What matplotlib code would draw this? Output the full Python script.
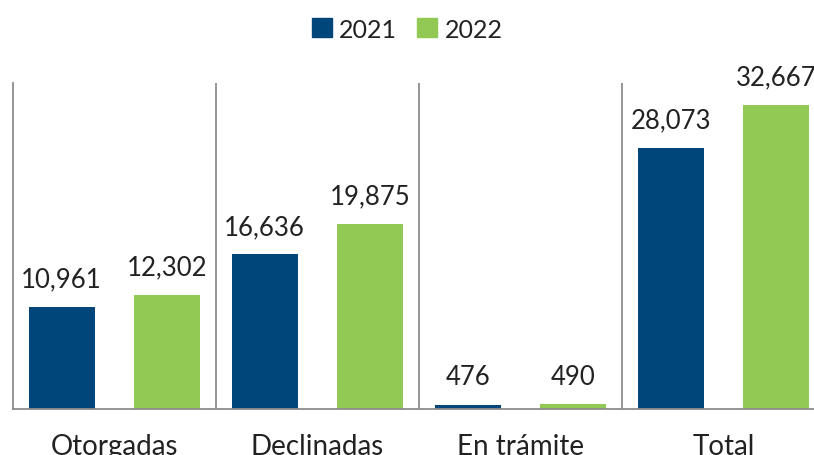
import numpy as np
import matplotlib.pyplot as plt
from matplotlib.patches import Patch

plt.rcParams['font.family'] = ['Lato', 'DejaVu Sans']

categories = ["Otorgadas", "Declinadas", "En trámite", "Total"]
years = ["2021", "2022"]
values_2021 = [10961, 16636, 476, 28073]
values_2022 = [12302, 19875, 490, 32667]

blue = "#00467A"
green = "#92C955"
line_col = "#8C8C8C"

fig = plt.figure(figsize=(8.14, 4.56), dpi=100)
ax = fig.add_axes([13 / 814, 46 / 456, 812 / 814, 325.7 / 456])

x = np.arange(len(categories))
w = 0.325
off = 0.26

b1 = ax.bar(x - off, values_2021, width=w, color=blue)
b2 = ax.bar(x + off, values_2022, width=w, color=green)

# value labels
for bars, vals in ((b1, values_2021), (b2, values_2022)):
    for rect, v in zip(bars, vals):
        ax.annotate(f"{v:,}", (rect.get_x() + rect.get_width() / 2, v),
                    xytext=(0, 11), textcoords="offset points",
                    ha="center", va="bottom", fontsize=18.5, color="#222222",
                    annotation_clip=False)

ax.set_xlim(-0.5, 3.5)
ax.set_ylim(0, 35000)

# category separators
for s in [0.5, 1.5, 2.5]:
    ax.axvline(s, color=line_col, linewidth=1.3)

for side in ["top", "right"]:
    ax.spines[side].set_visible(False)
ax.spines["left"].set_color(line_col)
ax.spines["left"].set_linewidth(1.3)
ax.spines["bottom"].set_color(line_col)
ax.spines["bottom"].set_linewidth(1.3)

ax.set_yticks([])
ax.set_xticks(x)
ax.set_xticklabels(categories, fontsize=20, color="#222222")
ax.tick_params(axis="x", length=0, pad=17)

handles = [Patch(color=blue, label=years[0]), Patch(color=green, label=years[1])]
fig.legend(handles=handles, loc="center", bbox_to_anchor=(0.5, 1 - 30 / 456),
           ncol=2, frameon=False, fontsize=18, handlelength=0.8, handleheight=0.8,
           handletextpad=0.3, columnspacing=0.8, labelcolor="#222222")

fig.savefig("out.png", dpi=100)
